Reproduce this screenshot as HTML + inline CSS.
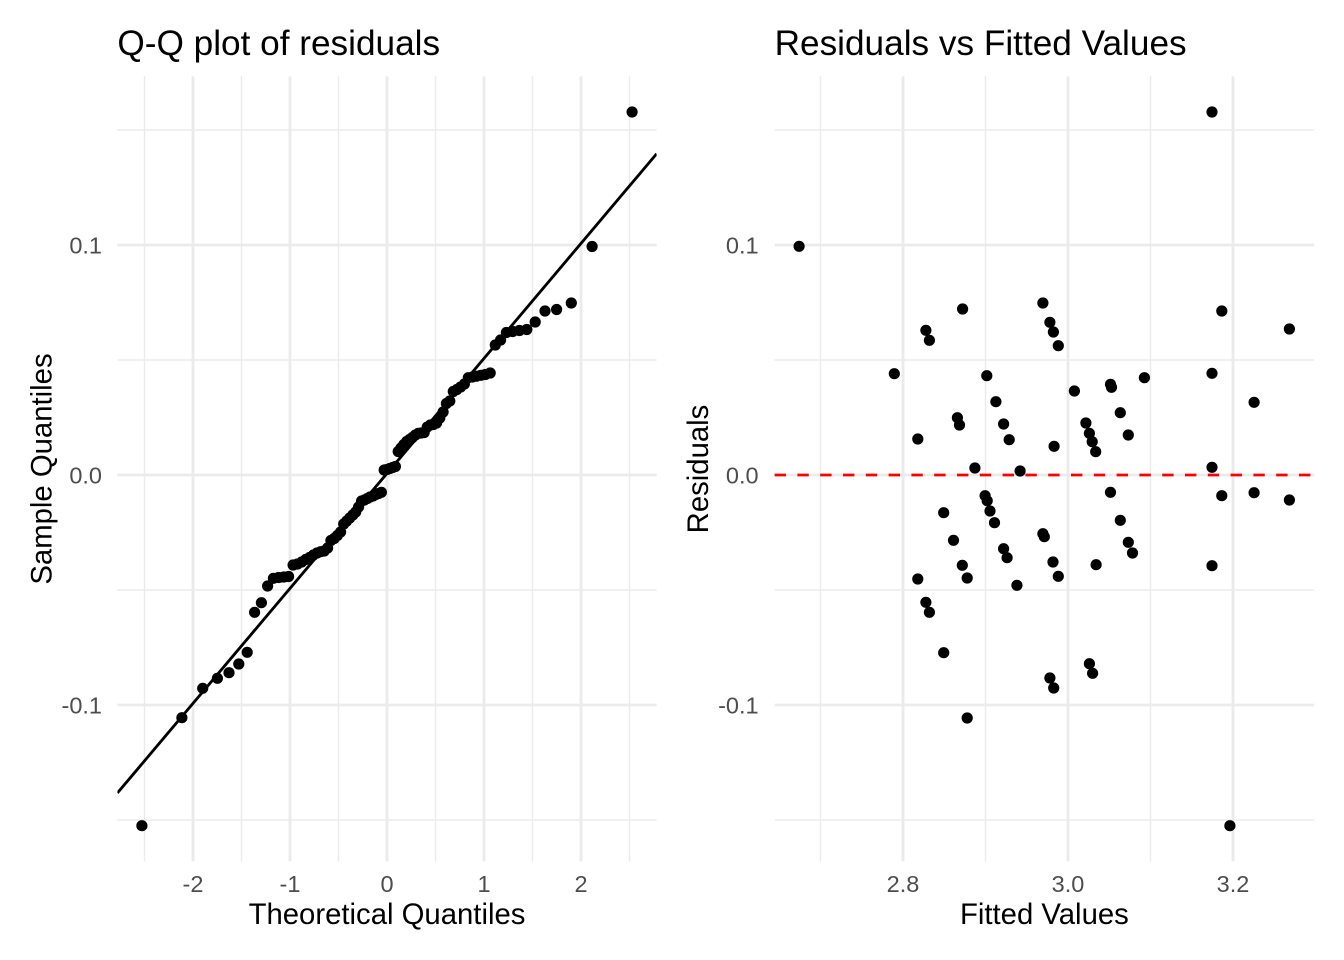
<!DOCTYPE html>
<html>
<head>
<meta charset="utf-8">
<style>
html,body{margin:0;padding:0;background:#fff}
svg{display:block}
text{font-family:"Liberation Sans",Arial,sans-serif}
</style>
</head>
<body>
<svg width="1344" height="960" viewBox="0 0 1344 960" xmlns="http://www.w3.org/2000/svg">
<rect width="1344" height="960" fill="#fff"/>
<defs>
<clipPath id="cL"><rect x="117.4" y="76.4" width="539.2" height="785"/></clipPath>
<clipPath id="cR"><rect x="774.6" y="76.4" width="539.6" height="785"/></clipPath>
</defs>

<path stroke="#EBEBEB" stroke-width="1.42" fill="none" d="M117.4 130H656.6M117.4 360H656.6M117.4 590H656.6M117.4 820H656.6M144.5 76.4V861.4M241.5 76.4V861.4M338.5 76.4V861.4M435.5 76.4V861.4M532.5 76.4V861.4M629.5 76.4V861.4M774.6 130H1314.2M774.6 360H1314.2M774.6 590H1314.2M774.6 820H1314.2M820.5 76.4V861.4M985.5 76.4V861.4M1150.5 76.4V861.4"/>
<path stroke="#EBEBEB" stroke-width="2.84" fill="none" d="M117.4 245H656.6M117.4 475H656.6M117.4 705H656.6M193 76.4V861.4M290 76.4V861.4M387 76.4V861.4M484 76.4V861.4M581 76.4V861.4M774.6 245H1314.2M774.6 475H1314.2M774.6 705H1314.2M903 76.4V861.4M1068 76.4V861.4M1233 76.4V861.4"/>

<path clip-path="url(#cL)" stroke="#000" stroke-width="11.2" stroke-linecap="round" fill="none" d="M141.9 825.7h0M181.9 717.7h0M202.7 688.3h0M217.4 678.3h0M229 672.7h0M238.8 664h0M247.2 652.3h0M254.6 612.3h0M261.4 602.7h0M267.6 586h0M273.4 578.3h0M278.7 577.5h0M283.8 577h0M288.6 576.5h0M293.1 565h0M297.5 564h0M301.7 562h0M305.7 559.5h0M309.6 557.5h0M313.4 555h0M317.1 553h0M320.7 551.7h0M324.2 551h0M327.6 548h0M330.9 540.5h0M334.2 538.5h0M337.4 535.5h0M340.6 532h0M343.7 524h0M346.7 521h0M349.8 518h0M352.8 515h0M355.7 512h0M358.6 507h0M361.6 501h0M364.4 500h0M367.3 498.5h0M370.1 497h0M373 496h0M375.8 494.5h0M378.6 493.5h0M381.4 492.3h0M384.2 470h0M387 469.5h0M389.8 468.5h0M392.6 467.5h0M395.4 466.5h0M398.2 451.5h0M401 448h0M403.9 444.5h0M406.7 441.5h0M409.6 439.5h0M412.4 437.5h0M415.4 435h0M418.3 433.3h0M421.2 433h0M424.2 432.5h0M427.3 427h0M430.3 425h0M433.4 424.5h0M436.6 423h0M439.8 418h0M443.1 412h0M446.4 403.5h0M449.8 401h0M453.3 391.5h0M456.9 389.5h0M460.6 387h0M464.4 384h0M468.3 377.7h0M472.3 377h0M476.5 376.2h0M480.9 375.3h0M485.4 374.5h0M490.2 373h0M495.3 345h0M500.6 340h0M506.4 332.5h0M512.6 331.5h0M519.4 330.5h0M526.8 329.5h0M535.2 322h0M545 311h0M556.6 309.5h0M571.3 303h0M592.1 246.5h0M632.1 112h0"/>
<line x1="117.4" y1="793" x2="656.6" y2="153.8" stroke="#000" stroke-width="2.84" clip-path="url(#cL)"/>

<path clip-path="url(#cR)" stroke="#000" stroke-width="11.2" stroke-linecap="round" fill="none" d="M1212 112h0M799.1 246.3h0M1042.9 303h0M962.6 309h0M1221.8 311h0M1049.9 322.3h0M1053.4 332h0M925.9 330.3h0M929.4 340.3h0M1289.4 329h0M1058.3 345.7h0M894.3 373.7h0M986.8 375.7h0M1212 373.3h0M1144.4 377.7h0M1074.4 391h0M1110.5 384.3h0M1111.5 387.3h0M995.9 401.7h0M1254.1 402.3h0M1120.3 412.7h0M957.4 417.7h0M959.5 425h0M1003.6 424h0M1085.9 423h0M1089.4 433.3h0M1092.2 441.7h0M1095.7 451.7h0M1128.3 435h0M917.8 439h0M1009.2 439.7h0M1054.1 446.3h0M974.9 468h0M1020.1 471h0M1212 467.3h0M1110.5 492.3h0M1221.8 495.7h0M1254.1 492.7h0M1289.4 500h0M985.1 495.7h0M987.2 500.7h0M990 511h0M994.5 522.7h0M943.7 512.7h0M1120.3 520.3h0M1042.9 533.7h0M1044.3 536.7h0M953.5 540.3h0M1128.3 542.3h0M1132.5 553h0M1003.6 548.7h0M1007.1 557.7h0M962.3 565.3h0M967.2 578h0M1053 562h0M1058.3 576.3h0M1096.1 564.7h0M1212 565.7h0M917.8 579h0M1016.9 585.3h0M925.9 602.3h0M929.4 612.3h0M943.7 652.7h0M1089.4 663.7h0M1092.6 673.3h0M1049.9 678h0M1053.7 688h0M967.2 718h0M1229.9 825.7h0"/>
<line x1="774.6" y1="475" x2="1314.2" y2="475" stroke="#FF0000" stroke-width="2.84" stroke-dasharray="11.4 11.4"/>

<g font-size="35.2" fill="#000">
<text x="117.4" y="55">Q-Q plot of residuals</text>
<text x="774.6" y="55">Residuals vs Fitted Values</text>
</g>
<g font-size="23.5" fill="#4D4D4D" text-anchor="end">
<text x="102" y="253.4">0.1</text>
<text x="102" y="483.4">0.0</text>
<text x="102" y="713.4">-0.1</text>
<text x="758.6" y="253.4">0.1</text>
<text x="758.6" y="483.4">0.0</text>
<text x="758.6" y="713.4">-0.1</text>
</g>
<g font-size="23.5" fill="#4D4D4D" text-anchor="middle">
<text x="193" y="892">-2</text>
<text x="290" y="892">-1</text>
<text x="387" y="892">0</text>
<text x="484" y="892">1</text>
<text x="581" y="892">2</text>
<text x="903" y="892">2.8</text>
<text x="1068" y="892">3.0</text>
<text x="1233" y="892">3.2</text>
</g>
<g font-size="29.3" fill="#000" text-anchor="middle">
<text x="387" y="924">Theoretical Quantiles</text>
<text x="1044.4" y="924">Fitted Values</text>
<text transform="translate(51.5,469) rotate(-90)">Sample Quantiles</text>
<text transform="translate(708,469) rotate(-90)">Residuals</text>
</g>
</svg>
</body>
</html>
